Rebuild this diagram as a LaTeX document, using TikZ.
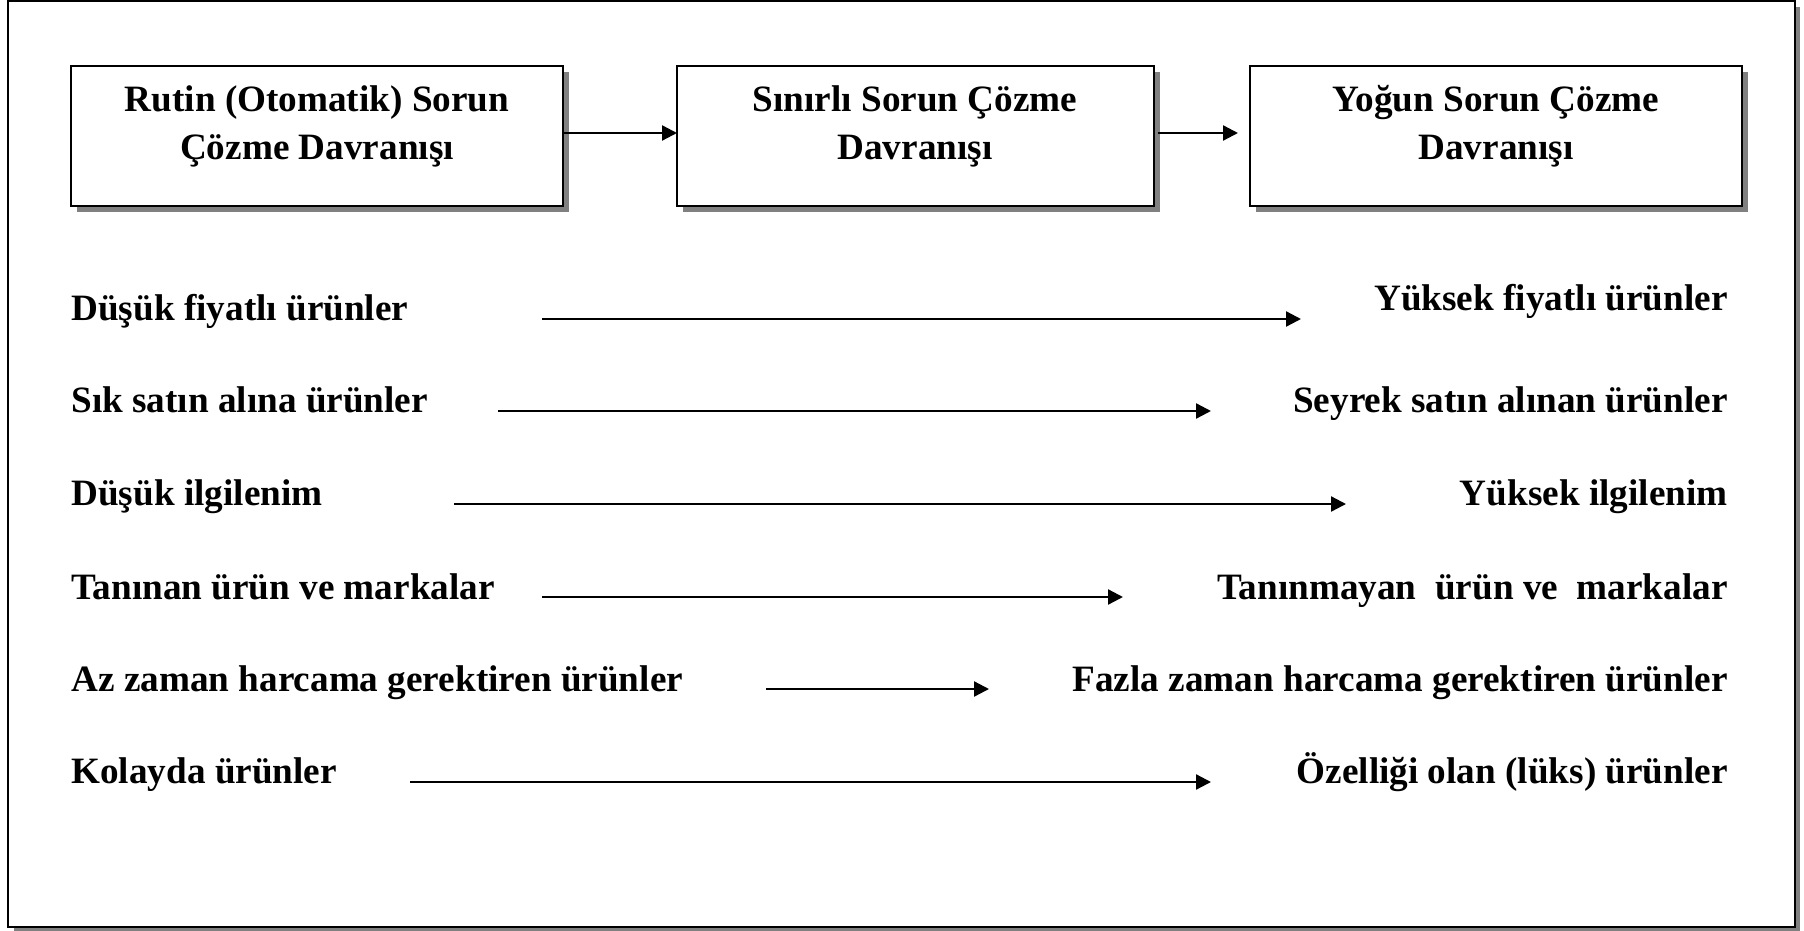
\documentclass[tikz,border=0pt]{standalone}
\usepackage{fontspec}
\setmainfont{Liberation Serif}
\usetikzlibrary{arrows.meta}
\tikzset{
  boxshape/.style={draw=black, line width=1pt, fill=white},
  shadowshape/.style={fill=black!50, draw=none},
  lbl/.style={inner sep=0pt, font=\fontsize{18.6pt}{23.6pt}\selectfont\bfseries},
  conn/.style={line width=1.15pt, -{Triangle[length=7.5pt,width=7.5pt]}},
}
\begin{document}
\begin{tikzpicture}[x=0.5pt,y=-0.5pt]
\useasboundingbox (0,0) rectangle (1804,931);
% outer frame with shadow
\fill[black!50] (14,7) rectangle (1800,931);
\draw[line width=1pt, fill=white] (8,1) rectangle (1795,927);
% boxes
\foreach \xa/\xb/\nm in {71/563/b1, 677/1154/b2, 1250/1742/b3}{
  \fill[shadowshape] (\xa+6,72) rectangle (\xb+6,212);
  \draw[boxshape] (\xa,66) rectangle (\xb,206);
  \coordinate (\nm w) at (\xa,133);
  \coordinate (\nm e) at (\xb,133);
}
\node[lbl, anchor=base] (t1a) at (317,112) {Rutin (Otomatik) Sorun};
\node[lbl, anchor=base] (t1b) at (317,159) {Çözme Davranışı};
\node[lbl, anchor=base] (t2a) at (915,112) {Sınırlı Sorun Çözme};
\node[lbl, anchor=base] (t2b) at (915,159) {Davranışı};
\node[lbl, anchor=base] (t3a) at (1496,112) {Yoğun Sorun Çözme};
\node[lbl, anchor=base] (t3b) at (1496,159) {Davranışı};
\draw[conn] (b1e) -- (b2w);
\draw[conn] (b2e) ++(4,0) coordinate (b2ee) (b2ee) -- ([xshift=-6]b3w);
% rows
\node[lbl, anchor=base west] (l1) at (71,320) {Düşük fiyatlı ürünler};
\node[lbl, anchor=base east] (r1) at (1728,310) {Yüksek fiyatlı ürünler};
\node[lbl, anchor=base west] (l2) at (71,412) {Sık satın alına ürünler};
\node[lbl, anchor=base east] (r2) at (1728,412) {Seyrek satın alınan ürünler};
\node[lbl, anchor=base west] (l3) at (71,505) {Düşük ilgilenim};
\node[lbl, anchor=base east] (r3) at (1728,505) {Yüksek ilgilenim};
\node[lbl, anchor=base west] (l4) at (71,599) {Tanınan ürün ve markalar};
\node[lbl, anchor=base east] (r4) at (1728,599) {Tanınmayan\ \ ürün ve\ \ markalar};
\node[lbl, anchor=base west] (l5) at (71,691) {Az zaman harcama gerektiren ürünler};
\node[lbl, anchor=base east] (r5) at (1728,691) {Fazla zaman harcama gerektiren ürünler};
\node[lbl, anchor=base west] (l6) at (71,783) {Kolayda ürünler};
\node[lbl, anchor=base east] (r6) at (1728,783) {Özelliği olan (lüks) ürünler};
\coordinate (a1s) at (542,319); \coordinate (a1e) at (1301,319);
\coordinate (a2s) at (498,411); \coordinate (a2e) at (1211,411);
\coordinate (a3s) at (454,504); \coordinate (a3e) at (1346,504);
\coordinate (a4s) at (542,597); \coordinate (a4e) at (1123,597);
\coordinate (a5s) at (766,689); \coordinate (a5e) at (989,689);
\coordinate (a6s) at (410,782); \coordinate (a6e) at (1211,782);
\foreach \i in {1,...,6}{\draw[conn] (a\i s) -- (a\i e);}
\end{tikzpicture}
\end{document}
